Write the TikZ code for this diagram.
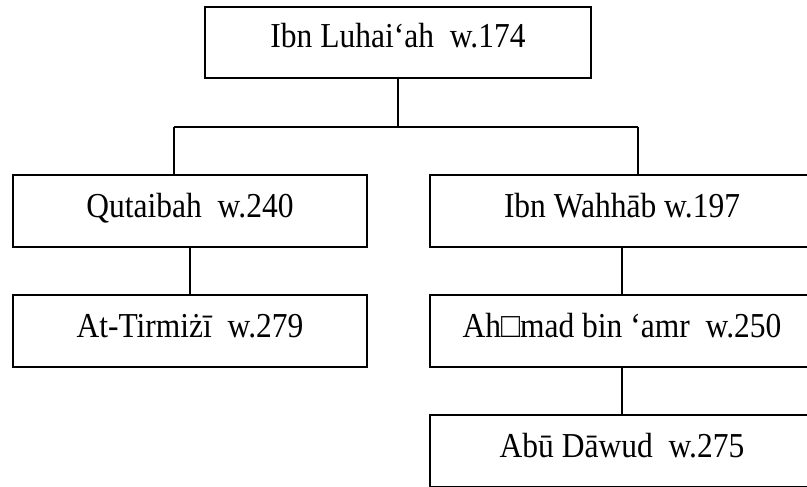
\documentclass[tikz,border=0pt]{standalone}
\usepackage{fontspec}
\setmainfont{Liberation Serif}[FakeStretch=0.9]
\begin{document}
\begin{tikzpicture}[x=1pt,y=-1pt,
  person/.style={draw=black,line width=1.6pt,inner sep=0pt,
    text height=42pt,text depth=30pt,font=\fontsize{35}{40}\selectfont},
  lbox/.style={person,minimum width=354pt},
  rbox/.style={person,minimum width=384pt},
  link/.style={draw=black,line width=1.2pt}]
\useasboundingbox (0,0) rectangle (807,487);
\clip (0,0) rectangle (807,487);
\node[person,minimum width=386pt,text height=41pt] (top) at (398,42.5) {Ibn Luhai‘ah\ \ w.174};
\node[lbox] (qut) at (190,211) {Qutaibah\ \ w.240};
\node[rbox] (wah) at (622,211) {Ibn Wahhāb w.197};
\node[lbox] (tir) at (190,331) {At-Tirmiżī\ \ w.279};
\node[rbox] (ahm) at (622,331) {Ah□mad bin ‘amr\ \ w.250};
\node[rbox] (abu) at (622,451) {Abū Dāwud\ \ w.275};
\coordinate (jl) at (174,127);
\coordinate (jr) at (638,127);
\draw[link] (top.south) -- (top.south |- jl);
\draw[link] (jl) -- (jr);
\draw[link] (jl) -- (jl |- qut.north);
\draw[link] (jr) -- (jr |- wah.north);
\draw[link] (qut.south) -- (tir.north);
\draw[link] (wah.south) -- (ahm.north);
\draw[link] (ahm.south) -- (abu.north);
\end{tikzpicture}
\end{document}
